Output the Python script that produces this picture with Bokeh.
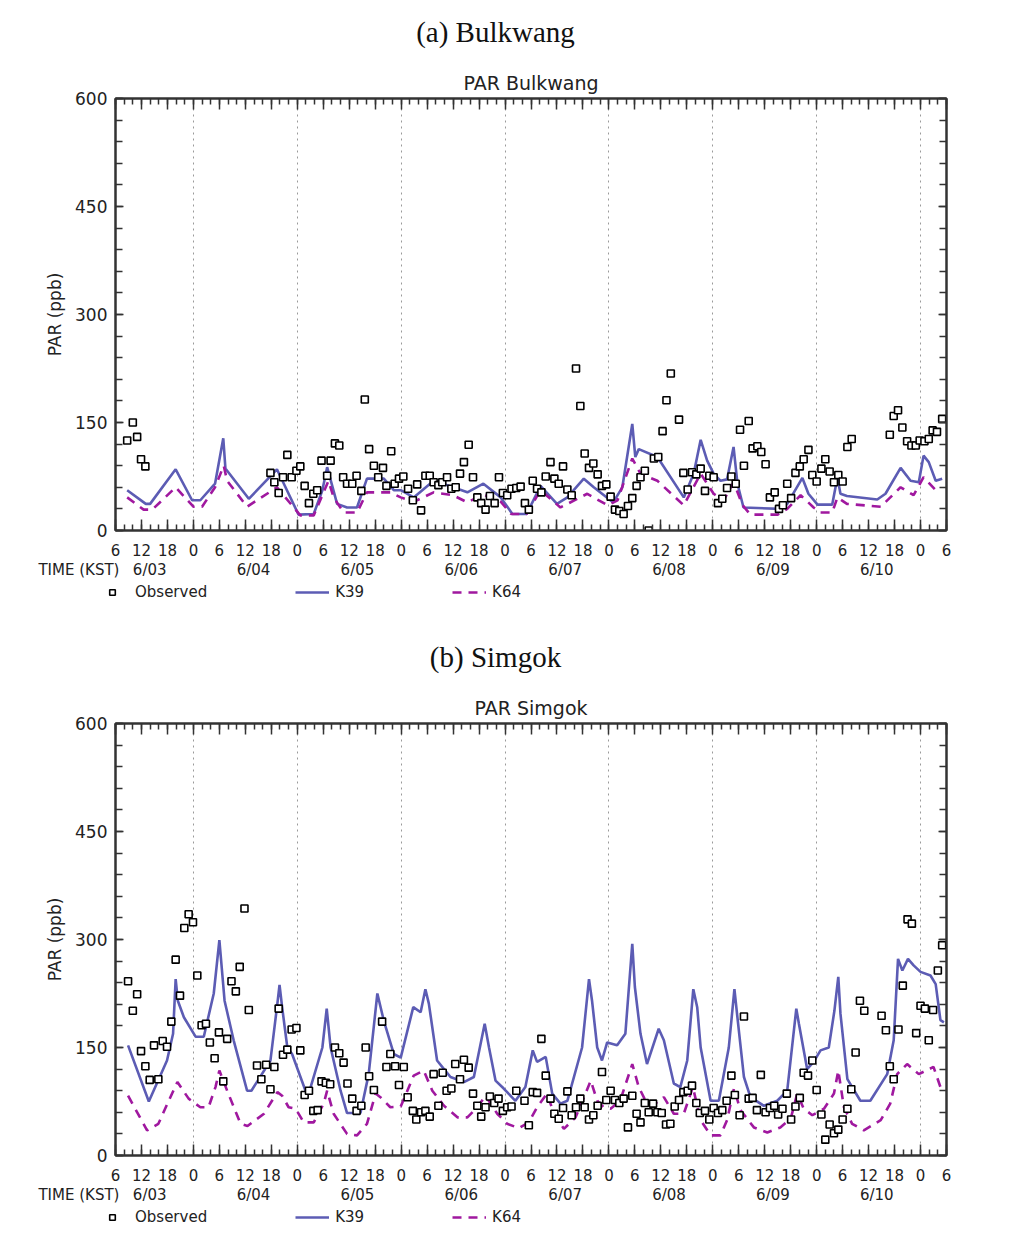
from bokeh.plotting import figure
from bokeh.models import (Range1d, LinearAxis, FixedTicker, Title, Legend, LegendItem, Grid)
from bokeh.layouts import column
from bokeh.embed import file_html
from bokeh.resources import INLINE

# ---------------- data (x = hours since 6/03 06 KST) ----------------
X_TICKS = list(range(0, 193, 6))
X_MINOR = list(range(0, 193, 2))
X_TICK_LABELS = {t: str((t + 6) % 24) for t in X_TICKS}
DATE_POS = [7.9, 31.9, 55.9, 79.9, 103.9, 127.9, 151.9, 175.9]
DATE_LABELS = ["6/03", "6/04", "6/05", "6/06", "6/07", "6/08", "6/09", "6/10"]
TIME_LABEL_POS = -17.8
MIDNIGHTS = [18, 42, 66, 90, 114, 138, 162, 186]
Y_TICKS = [0, 150, 300, 450, 600]
Y_MINOR = list(range(0, 601, 30))

# Panel (a) Bulkwang
obs_bulkwang = [
    (2.7, 125), (4.0, 150), (5.0, 130), (5.9, 99), (6.9, 89),
    (35.8, 80), (36.7, 67), (37.7, 52), (38.7, 74), (39.7, 105), (40.7, 74), (41.8, 83),
    (42.7, 89), (43.7, 62), (44.7, 38), (45.7, 51), (46.6, 56), (47.6, 97), (48.9, 76),
    (49.7, 97), (50.7, 121), (51.7, 118), (52.6, 74), (53.5, 65), (54.7, 65), (55.7, 76),
    (56.8, 55), (57.6, 182), (58.6, 113), (59.7, 90), (60.7, 74), (61.8, 87), (62.6, 62),
    (63.7, 110), (64.5, 65), (65.5, 72), (66.5, 75), (67.6, 58), (68.7, 42), (69.7, 64),
    (70.6, 28), (71.6, 76), (72.6, 76), (73.5, 67), (74.6, 63), (75.5, 67), (76.6, 74),
    (77.6, 58), (78.6, 60), (79.6, 79), (80.5, 95), (81.6, 119), (82.6, 74), (83.6, 46),
    (84.5, 38), (85.5, 29), (86.5, 48), (87.6, 38), (88.6, 74), (89.5, 52), (90.5, 49),
    (91.5, 58), (92.6, 59), (93.6, 61), (94.6, 38), (95.5, 29), (96.4, 69), (97.4, 58),
    (98.4, 53), (99.4, 75), (100.5, 95), (101.4, 72), (102.4, 65), (103.4, 89), (104.4, 57),
    (105.4, 49), (106.4, 225), (107.4, 173), (108.4, 107), (109.4, 87), (110.4, 93),
    (111.4, 78), (112.4, 62), (113.4, 64), (114.4, 47), (115.4, 29), (116.4, 27), (117.4, 23),
    (118.4, 34), (119.4, 45), (120.4, 62), (121.3, 74), (122.3, 83), (123.2, 0), (124.4, 100),
    (125.4, 102), (126.4, 138), (127.3, 181), (128.3, 218), (130.2, 154), (131.2, 80),
    (132.2, 57), (133.2, 81), (134.2, 78), (135.2, 86), (136.2, 55), (137.2, 76), (138.2, 74),
    (139.2, 38), (140.2, 44), (141.3, 59), (142.3, 75), (143.3, 65), (144.3, 140), (145.2, 90),
    (146.3, 152), (147.2, 114), (148.3, 117), (149.2, 109), (150.2, 92), (151.2, 46),
    (152.3, 53), (153.3, 30), (154.2, 35), (155.2, 65), (156.1, 45), (157.1, 80), (158.1, 89),
    (159.0, 99), (160.1, 112), (161.0, 77), (162.0, 68), (163.1, 86), (164.0, 99), (165.0, 82),
    (166.0, 67), (167.0, 77), (168.0, 68), (169.1, 116), (170.1, 127), (178.9, 133),
    (179.8, 159), (180.8, 167), (181.8, 143), (182.9, 124), (183.9, 118), (184.9, 118),
    (185.8, 125), (186.9, 124), (187.9, 127), (188.8, 139), (189.8, 137), (191.0, 155),
]
k39_bulkwang = [
    (2.7, 56), (7, 37), (8, 37), (13.9, 85), (17.7, 42), (19.6, 42), (23, 65), (24.9, 128),
    (25.4, 86), (30.8, 44), (37.3, 85), (42.3, 22), (45.8, 23), (47.8, 56), (48.9, 88),
    (51.2, 37), (53.5, 32), (55.8, 32), (58.1, 72), (62, 72), (64.3, 56), (65.9, 56),
    (68.9, 46), (73.5, 69), (78, 60), (81.3, 53), (85, 65), (89, 46), (91.7, 23), (95, 23),
    (98.2, 62), (102, 37), (104.4, 46), (108.2, 72), (110.5, 60), (115, 39), (117.1, 60),
    (119.4, 148), (120.1, 102), (120.9, 113), (125.2, 102), (131.3, 46), (133.6, 79),
    (135.2, 126), (136.7, 97), (138.2, 79), (139.8, 69), (141.3, 71), (142.8, 116),
    (143.7, 65), (145.1, 32), (153.6, 30), (155.2, 37), (158.7, 73), (160.1, 51), (162.2, 36),
    (165.6, 36), (166.8, 74), (167.5, 51), (169, 48), (176, 43), (177.9, 51), (181.4, 87),
    (183.7, 69), (185.6, 67), (186.7, 104), (187.9, 95), (189.5, 69), (191, 72),
]
k64_bulkwang = [
    (2.7, 46), (6.5, 29), (8.5, 29), (13.9, 60), (18, 33), (20, 33), (23, 60), (25, 90),
    (25.8, 69), (30.4, 33), (37.3, 60), (42.7, 21), (45.8, 21), (49.2, 69), (50.4, 46),
    (52.7, 25), (55.8, 25), (58.1, 53), (63.5, 53), (65.9, 46), (69, 40), (73.5, 53), (78, 49),
    (81.3, 39), (85, 50), (89, 40), (91.4, 23), (95, 23), (98.2, 56), (102.8, 32), (109, 51),
    (113.7, 35), (116, 42), (119.4, 100), (121.3, 79), (125.2, 69), (131.3, 35), (135.2, 79),
    (138.2, 51), (140.5, 42), (142.8, 67), (144.9, 35), (146.7, 22), (153, 22), (155.2, 30),
    (158.3, 49), (161.3, 32), (162.9, 25), (165.6, 25), (166.8, 46), (169, 37), (176.8, 33),
    (181.4, 60), (184.4, 49), (186.7, 74), (189.5, 56),
]

# Panel (b) Simgok
obs_simgok = [
    (2.9, 242), (4.0, 201), (5.0, 224), (5.9, 145), (6.9, 124), (7.9, 105), (8.9, 153),
    (9.9, 106), (10.9, 159), (11.9, 151), (12.9, 186), (13.9, 272), (14.9, 222), (15.9, 316),
    (16.9, 335), (17.9, 324), (18.9, 250), (19.9, 181), (20.9, 183), (21.8, 157), (22.9, 135),
    (23.9, 171), (24.9, 103), (25.8, 162), (26.8, 242), (27.8, 228), (28.7, 262), (29.8, 343),
    (30.8, 202), (32.7, 125), (33.7, 106), (34.8, 126), (35.8, 92), (36.7, 123), (37.7, 204),
    (38.7, 140), (39.7, 147), (40.7, 175), (41.8, 177), (42.7, 146), (43.7, 84), (44.7, 90),
    (45.7, 62), (46.7, 63), (47.6, 103), (48.6, 101), (49.6, 99), (50.7, 150), (51.7, 142),
    (52.7, 129), (53.6, 100), (54.7, 79), (55.7, 62), (56.8, 69), (57.8, 150), (58.6, 110),
    (59.7, 91), (61.6, 186), (62.6, 123), (63.5, 141), (64.6, 124), (65.5, 98), (66.6, 123),
    (67.5, 81), (68.7, 62), (69.5, 50), (70.6, 60), (71.6, 62), (72.6, 54), (73.5, 113),
    (74.6, 69), (75.6, 115), (76.5, 90), (77.6, 93), (78.5, 127), (79.6, 106), (80.5, 133),
    (81.6, 122), (82.6, 86), (83.6, 69), (84.5, 54), (85.5, 67), (86.5, 82), (87.5, 73),
    (88.5, 79), (89.5, 62), (90.5, 67), (91.5, 68), (92.6, 90), (94.5, 76), (95.5, 42),
    (96.4, 88), (97.4, 87), (98.4, 162), (99.4, 111), (100.5, 79), (101.4, 58), (102.4, 51),
    (103.4, 66), (104.4, 89), (105.4, 56), (106.4, 67), (107.4, 79), (108.4, 67), (109.4, 50),
    (110.4, 56), (111.4, 69), (112.4, 116), (113.4, 77), (114.4, 90), (115.4, 77), (116.4, 73),
    (117.4, 79), (118.4, 39), (119.4, 83), (120.4, 58), (121.3, 46), (122.3, 73), (123.2, 60),
    (124.2, 72), (125.2, 60), (126.2, 59), (127.2, 43), (128.2, 44), (129.2, 68), (130.2, 77),
    (131.2, 88), (132.2, 90), (133.2, 97), (134.2, 73), (135.0, 59), (136.2, 62), (137.2, 50),
    (138.2, 66), (139.2, 59), (140.2, 63), (141.2, 76), (142.3, 111), (143.1, 84), (144.2, 56),
    (145.2, 193), (146.3, 79), (147.2, 80), (148.2, 63), (149.1, 112), (150.2, 60), (151.2, 66),
    (152.2, 69), (153.1, 57), (154.1, 65), (155.1, 86), (156.1, 50), (157.1, 68), (158.1, 80),
    (159.0, 115), (160.0, 111), (161.0, 132), (162.0, 91), (163.1, 57), (164.0, 22),
    (165.0, 43), (166.0, 31), (167.0, 36), (168.0, 50), (169.1, 65), (170.0, 92), (171.0, 143),
    (172.0, 215), (173.0, 201), (177.0, 194), (178.0, 174), (178.9, 124), (179.8, 106),
    (180.9, 175), (181.9, 236), (183.0, 328), (184.0, 322), (185.0, 170), (186.0, 208),
    (187.0, 204), (187.9, 160), (188.9, 202), (190.0, 257), (191.0, 292),
]
k39_simgok = [
    (2.9, 153), (7.7, 75), (11.9, 132), (13.3, 169), (13.9, 245), (14.4, 215), (15.8, 192),
    (18.5, 165), (20.4, 165), (22.7, 225), (24.0, 299), (25.2, 215), (27.3, 160), (30.4, 90),
    (31.4, 90), (35.8, 132), (37.4, 211), (37.9, 237), (38.5, 206), (39.7, 150), (40.8, 141),
    (43.9, 90), (44.9, 91), (47.8, 150), (48.8, 204), (49.7, 150), (52, 90), (53.5, 59),
    (56.6, 59), (58.5, 113), (60.5, 225), (62, 187), (64.3, 141), (65.9, 136), (68.8, 206),
    (70.5, 199), (71.6, 231), (72.4, 211), (74.3, 132), (75.9, 120), (77.4, 109), (80.5, 102),
    (82.8, 109), (85.3, 183), (86.3, 150), (87.8, 104), (89.7, 93), (92.4, 76), (94.7, 95),
    (96.4, 146), (97.4, 130), (99.4, 137), (100.9, 86), (102.8, 72), (104.4, 76), (107.8, 150),
    (109.4, 245), (110.1, 215), (111.3, 150), (112.4, 132), (113.6, 157), (115.9, 153),
    (117.8, 169), (119.4, 294), (120, 234), (121.3, 169), (122.8, 127), (125.5, 176),
    (126.7, 160), (129, 100), (130.5, 95), (132.1, 132), (133.5, 231), (134.4, 206),
    (135.2, 150), (137.5, 76), (139.4, 76), (141.7, 150), (143, 231), (143.6, 197),
    (145.2, 109), (146.7, 81), (149.8, 69), (152.9, 76), (155.2, 90), (157.3, 204),
    (157.9, 183), (159.8, 120), (161.3, 130), (162.9, 146), (164.8, 150), (166.1, 201),
    (167, 248), (167.5, 197), (169.1, 106), (172.1, 76), (174.4, 76), (178.3, 113),
    (179.8, 160), (180.8, 273), (181.8, 257), (183.1, 273), (184.4, 264), (186, 255),
    (188.3, 250), (189.5, 238), (190.6, 188), (191.4, 185),
]
k64_simgok = [
    (2.9, 83), (7.3, 35), (9.9, 44), (12.3, 76), (14.3, 102), (16.9, 79), (19.6, 67),
    (21.5, 67), (23.1, 95), (24, 118), (25.8, 90), (28.9, 44), (30.5, 41), (34.3, 58),
    (37.4, 88), (38.5, 83), (40, 67), (41.6, 65), (43.5, 46), (45.8, 46), (48.1, 72),
    (48.9, 90), (50.4, 58), (53.5, 30), (55.8, 28), (58.1, 44), (60.1, 86), (61.2, 81),
    (63.5, 67), (65.9, 68), (68.9, 111), (71.2, 118), (73.2, 90), (75.9, 69), (79, 53),
    (81.3, 53), (83.6, 67), (85.5, 83), (88.2, 58), (90.5, 44), (93.2, 38), (95.5, 46),
    (97.4, 67), (99.7, 86), (101.3, 58), (103.6, 37), (106.3, 53), (108.6, 86), (109.8, 104),
    (111.3, 76), (112.8, 67), (114.4, 65), (116.6, 76), (119.4, 127), (120.9, 95), (122.8, 72),
    (124.7, 72), (126.7, 81), (129, 58), (131.3, 58), (133.4, 95), (135.2, 49), (137.5, 28),
    (139.8, 28), (141.3, 49), (142.9, 93), (144.4, 63), (147.5, 39), (150.6, 32), (153.6, 39),
    (156, 51), (157.5, 86), (159, 65), (161, 56), (163.7, 65), (166, 86), (167, 118),
    (168.3, 67), (170.2, 44), (172.9, 35), (176.8, 49), (179, 72), (180.6, 113), (182.9, 127),
    (185.6, 113), (189, 123), (190.6, 95),
]

FONT = "DejaVu Sans"
TXT = "#222222"
AX = "#333333"
K39_COLOR = "#5c5cb4"
K64_COLOR = "#a0189f"

# layout constants (pixels)
WIDTH = 1010
LEFT, RIGHT, TOP = 115, 64, 48
FRAME_W = WIDTH - LEFT - RIGHT
HOURS = 192
CAPTION_X = 495


def split(pairs):
    return [a for a, _ in pairs], [b for _, b in pairs]


def style_lines():
    return (dict(line_color=K39_COLOR, line_width=2.6),
            dict(line_color=K64_COLOR, line_width=2.6, line_dash="9 7"),
            dict(marker="square", size=7, line_color="black", fill_color="white", line_width=1.6))


def blank(height, x_range):
    s = figure(width=WIDTH, height=height, x_range=x_range, y_range=Range1d(height, 0),
               output_backend="svg", toolbar_location=None, title=None,
               x_axis_location=None, y_axis_location=None,
               min_border=0, min_border_left=0, min_border_right=0, min_border_top=0,
               min_border_bottom=0, outline_line_color=None,
               background_fill_color="white", border_fill_color="white")
    s.frame_align = False
    s.xgrid.visible = False
    s.ygrid.visible = False
    return s


def make_caption(text, height, y):
    c = blank(height, Range1d(0, WIDTH))
    c.text(x=[CAPTION_X], y=[y], text=[text], text_align="center", text_baseline="middle",
           text_font={"value": "Liberation Serif"}, text_font_size="29px",
           text_color="#111111")
    return c


def make_panel(title, obs, k39, k64):
    p = figure(width=WIDTH, height=TOP + 432 + 30, x_range=Range1d(0, HOURS),
               y_range=Range1d(0, 600),
               output_backend="svg", toolbar_location=None, title=None,
               x_axis_location=None, y_axis_location=None,
               min_border_left=LEFT, min_border_right=RIGHT, min_border_top=TOP,
               min_border_bottom=30,
               outline_line_color=AX, outline_line_width=2,
               background_fill_color="white", border_fill_color="white")
    for r in list(p.center):
        if isinstance(r, Grid):
            r.visible = False

    p.add_layout(Grid(dimension=0, ticker=FixedTicker(ticks=MIDNIGHTS),
                      grid_line_color="#9a9a9a", grid_line_dash="2 4", grid_line_width=1))

    tick_kw = dict(major_tick_out=0, minor_tick_out=0, axis_line_color=AX, axis_line_width=2,
                   major_tick_line_color=AX, minor_tick_line_color=AX,
                   major_tick_line_width=1.5, minor_tick_line_width=1.5,
                   major_label_text_font=FONT, major_label_text_color=TXT)

    xb = LinearAxis(ticker=FixedTicker(ticks=X_TICKS, minor_ticks=X_MINOR),
                    major_label_overrides=X_TICK_LABELS, major_tick_in=11, minor_tick_in=6,
                    major_label_standoff=13, major_label_text_font_size="15px", **tick_kw)
    p.add_layout(xb, "below")
    xt = LinearAxis(ticker=FixedTicker(ticks=X_TICKS, minor_ticks=X_MINOR),
                    major_label_overrides={t: "" for t in X_TICKS},
                    major_tick_in=11, minor_tick_in=6, major_label_standoff=0,
                    major_label_text_font_size="0px", **tick_kw)
    p.add_layout(xt, "above")

    yl = LinearAxis(ticker=FixedTicker(ticks=Y_TICKS, minor_ticks=Y_MINOR),
                    major_tick_in=8, minor_tick_in=7, major_label_standoff=8,
                    major_label_text_font_size="17px",
                    axis_label="PAR (ppb)", axis_label_text_font=FONT,
                    axis_label_text_font_size="17px", axis_label_text_font_style="normal",
                    axis_label_text_color=TXT, axis_label_standoff=7, **tick_kw)
    p.add_layout(yl, "left")
    yr = LinearAxis(ticker=FixedTicker(ticks=Y_TICKS, minor_ticks=Y_MINOR),
                    major_label_overrides={t: "" for t in Y_TICKS},
                    major_tick_in=8, minor_tick_in=7, major_label_standoff=0,
                    major_label_text_font_size="0px", **tick_kw)
    p.add_layout(yr, "right")

    p.add_layout(Title(text=title, align="center", text_font=FONT, text_font_size="19px",
                       text_font_style="normal", text_color=TXT, standoff=10), "above")

    s39, s64, sob = style_lines()
    kx, ky = split(k39)
    p.line(kx, ky, **s39)
    mx, my = split(k64)
    p.line(mx, my, **s64)
    ox, oy = split(obs)
    p.scatter(ox, oy, **sob)
    return p


def make_strip(height, legend_bottom):
    """Row with the date labels, the time-axis title and the legend."""
    hpp = HOURS / FRAME_W
    s = blank(height, Range1d(-LEFT * hpp, (WIDTH - LEFT) * hpp))
    s.text(x=DATE_POS, y=[0] * len(DATE_POS), text=DATE_LABELS, text_align="center",
           text_baseline="top", text_font={"value": FONT}, text_font_size="15px",
           text_color=TXT)
    s.text(x=[TIME_LABEL_POS], y=[0], text=["TIME (KST)"], text_align="left",
           text_baseline="top", text_font={"value": FONT}, text_font_size="15px",
           text_color=TXT)
    s39, s64, sob = style_lines()
    far = -1e6  # sample renderers for the legend only (outside the visible range)
    rob = s.scatter([far], [far], **sob)
    r39 = s.line([far, far + 1], [far, far], **s39)
    r64 = s.line([far, far + 1], [far, far], **s64)
    legend = Legend(items=[LegendItem(label="Observed", renderers=[rob]),
                           LegendItem(label="K39", renderers=[r39]),
                           LegendItem(label="K64", renderers=[r64])],
                    location=(LEFT - 20, legend_bottom), orientation="horizontal",
                    glyph_width=34, glyph_height=14, label_standoff=6, spacing=88, padding=0,
                    margin=0, border_line_color=None, background_fill_alpha=0,
                    label_text_font=FONT, label_text_font_size="15px", label_text_color=TXT)
    s.add_layout(legend)
    return s


c1 = make_caption("(a) Bulkwang", 50, 31)
p1 = make_panel("PAR Bulkwang", obs_bulkwang, k39_bulkwang, k64_bulkwang)
s1 = make_strip(65, 24)
c2 = make_caption("(b) Simgok", 50, 31)
p2 = make_panel("PAR Simgok", obs_simgok, k39_simgok, k64_simgok)
s2 = make_strip(45, 4)

layout = column(c1, p1, s1, c2, p2, s2, spacing=0)
open("out.html", "w").write(file_html(layout, INLINE))
